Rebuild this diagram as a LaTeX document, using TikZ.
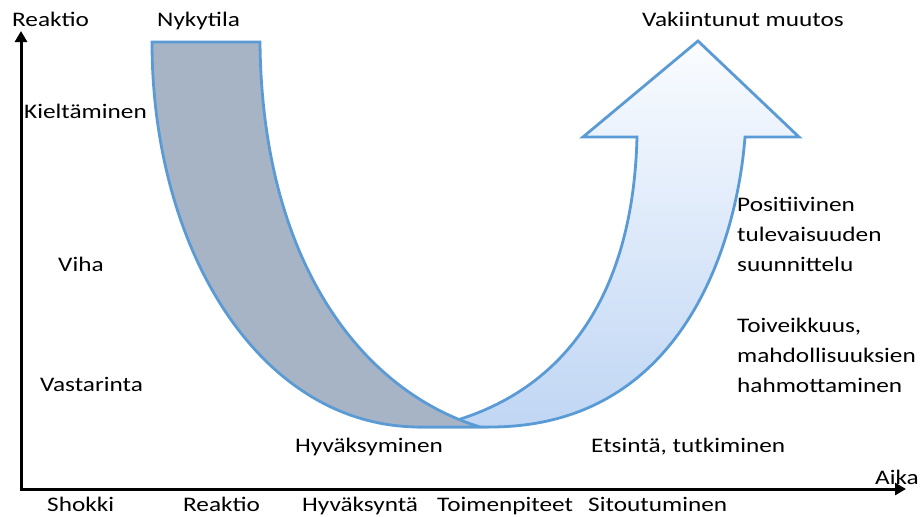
\documentclass[tikz,border=0pt]{standalone}
\usepackage{fontspec}
\setmainfont{Carlito}[FakeStretch=1.22]
\usetikzlibrary{arrows.meta}
\definecolor{edgeblue}{RGB}{91,155,213}
\definecolor{grayfill}{RGB}{167,180,198}
\definecolor{bluetop}{RGB}{250,252,255}
\definecolor{bluebot}{RGB}{192,214,244}
\begin{document}
\begin{tikzpicture}[x=1pt,y=-1pt,
  lbl/.style={font=\fontsize{20.7}{30}\selectfont, inner sep=0pt, anchor=base west, align=left},
  band/.style={draw=edgeblue, line width=2.8pt, line join=miter},
  axisline/.style={line width=3pt, black, {Triangle[width=12pt,length=11pt]}-{Triangle[width=12pt,length=11pt]}}]
\useasboundingbox (0,0) rectangle (922,517);
\fill[white] (0,0) rectangle (922,517);

% blue rising arrow (drawn first, partly under the grey band)
\path[band, top color=bluetop, bottom color=bluebot]
  (430,427) .. controls (560,400) and (633,300) .. (637,137)
  -- (583,137) -- (698,41) -- (799,137) -- (745,137)
  .. controls (738,230) and (690,427) .. (490,427) -- cycle;

% grey descending band
\path[band, fill=grayfill]
  (152,42) -- (260,42) .. controls (262,260) and (360,390) .. (480,427)
  -- (420,427) .. controls (260,427) and (152,250) .. (152,42) -- cycle;

% axes
\coordinate (ytip) at (21,31);
\coordinate (origin) at (21,489);
\coordinate (xtip) at (906,489);
\draw[axisline] (ytip) -- (origin) -- (xtip);

% labels
\node[lbl] (yname) at (12,26) {Reaktio};
\node[lbl] (now) at (157,26) {Nykytila};
\node[lbl] (goal) at (642,26) {Vakiintunut muutos};
\node[lbl] (kielt) at (24,118) {Kieltäminen};
\node[lbl] (viha) at (58,271) {Viha};
\node[lbl] (vast) at (40,391) {Vastarinta};
\node[lbl] (posit) at (737,271) {Positiivinen\\tulevaisuuden\\suunnittelu};
\node[lbl] (toive) at (737,392) {Toiveikkuus,\\mahdollisuuksien\\hahmottaminen};
\node[lbl] (hyvm) at (295,452) {Hyväksyminen};
\node[lbl] (etsi) at (591,452) {Etsintä, tutkiminen};
\node[lbl] (aika) at (875,484) {Aika};
\node[lbl] (s1) at (47,511) {Shokki};
\node[lbl] (s2) at (183,511) {Reaktio};
\node[lbl] (s3) at (302,511) {Hyväksyntä};
\node[lbl] (s4) at (437,511) {Toimenpiteet};
\node[lbl] (s5) at (588,511) {Sitoutuminen};
\end{tikzpicture}
\end{document}
